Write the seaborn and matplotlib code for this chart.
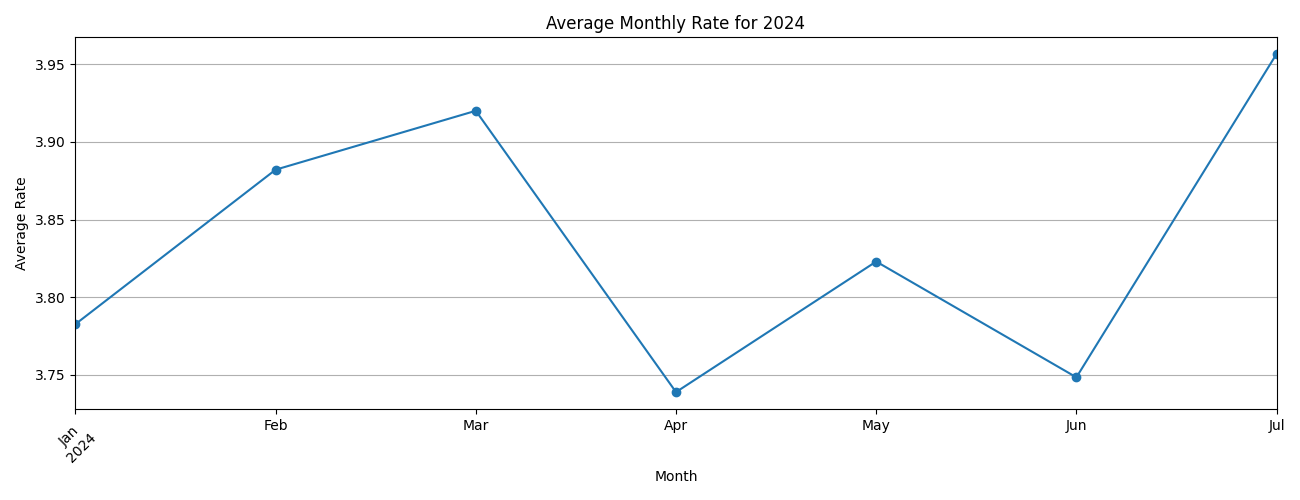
import matplotlib
matplotlib.use("Agg")
import matplotlib.pyplot as plt
import pandas as pd
import seaborn as sns

months = ["Jan", "Feb", "Mar", "Apr", "May", "Jun", "Jul"]
avg_rate = [3.7827, 3.8821, 3.9200, 3.7390, 3.8230, 3.7485, 3.9566]

df = pd.DataFrame({"month_idx": range(len(months)), "rate": avg_rate})

sns.set_style("ticks", {
    "axes.edgecolor": "black",
    "axes.labelcolor": "black",
    "text.color": "black",
    "xtick.color": "black",
    "ytick.color": "black",
})
plt.rcParams["font.family"] = ["DejaVu Sans"]

fig, ax = plt.subplots(figsize=(13, 5), dpi=100)
sns.lineplot(data=df, x="month_idx", y="rate", marker="o", color="#1f77b4",
             markersize=6, markeredgewidth=1, markeredgecolor="#1f77b4",
             linewidth=1.5, ax=ax)

ax.set_xlim(0, len(months) - 1)
ax.set_xticks(df["month_idx"])
labels = ["Jan\n2024"] + months[1:]
ax.set_xticklabels(labels)
ax.get_xticklabels()[0].set_rotation(45)
ax.get_xticklabels()[0].set_ha("center")

ax.grid(axis="y", color="#b0b0b0", linewidth=0.8)
ax.set_axisbelow(True)
ax.set_title("Average Monthly Rate for 2024")
ax.set_xlabel("Month")
ax.set_ylabel("Average Rate")

fig.subplots_adjust(left=0.058, right=0.982, top=0.926, bottom=0.182)
fig.savefig("out.png", dpi=100)
